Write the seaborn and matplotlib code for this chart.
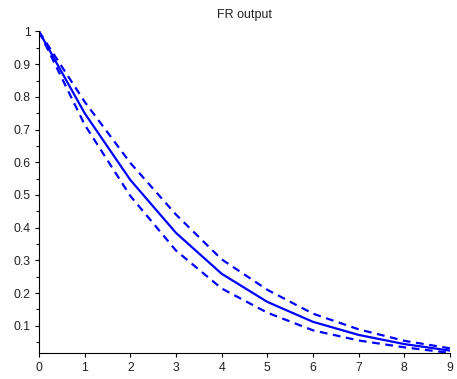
import numpy as np
import pandas as pd
import matplotlib
matplotlib.use("Agg")
import matplotlib.pyplot as plt
from matplotlib.ticker import MultipleLocator
import seaborn as sns

# Step response samples with upper/lower bounds
k = [0, 1, 2, 3, 4, 5, 6, 7, 8, 9]
response = [1.0, 0.75, 0.546, 0.384, 0.259, 0.173, 0.112, 0.072, 0.044, 0.024]
upper = [1.0, 0.785, 0.598, 0.44, 0.303, 0.21, 0.137, 0.089, 0.054, 0.031]
lower = [1.0, 0.715, 0.497, 0.33, 0.214, 0.14, 0.086, 0.055, 0.034, 0.017]

df = pd.DataFrame({
    "k": k * 3,
    "value": response + upper + lower,
    "curve": ["response"] * len(k) + ["upper"] * len(k) + ["lower"] * len(k),
})

sns.set_theme(style="white")
plt.rcParams["font.family"] = ["Liberation Sans", "DejaVu Sans"]

fig = plt.figure(figsize=(4.57, 3.79), dpi=100)
ax = fig.add_axes([0.0853, 0.068, 0.8994, 0.849])

sns.lineplot(
    data=df, x="k", y="value", hue="curve", style="curve",
    palette={"response": "#0000ff", "upper": "#0000ff", "lower": "#0000ff"},
    dashes={"response": "", "upper": (3.5, 2.5), "lower": (3.5, 2.5)},
    linewidth=1.6, legend=False, ax=ax,
)

ax.set_xlim(0, 9)
ax.set_ylim(0.016, 1.0)
ax.set_xlabel("")
ax.set_ylabel("")
ax.set_title("FR output", fontsize=9, color="#222222", pad=10)

ax.xaxis.set_major_locator(MultipleLocator(1))
ax.yaxis.set_minor_locator(MultipleLocator(0.05))
ax.set_yticks(np.arange(0.1, 1.01, 0.1))
ax.set_yticklabels(["0.1", "0.2", "0.3", "0.4", "0.5", "0.6", "0.7", "0.8", "0.9", "1"])

for side in ("top", "right"):
    ax.spines[side].set_visible(False)
for side in ("left", "bottom"):
    ax.spines[side].set_color("black")
    ax.spines[side].set_linewidth(0.8)

ax.tick_params(axis="both", which="major", direction="out", length=3, width=0.8,
               colors="black", labelsize=8.8, labelcolor="#222222", pad=3)
ax.tick_params(axis="y", which="minor", direction="out", length=2, width=0.8,
               colors="black", left=True)
ax.tick_params(axis="x", which="major", bottom=True)
ax.tick_params(axis="y", which="major", left=True)
ax.grid(False)

fig.savefig("out.png", dpi=100)
